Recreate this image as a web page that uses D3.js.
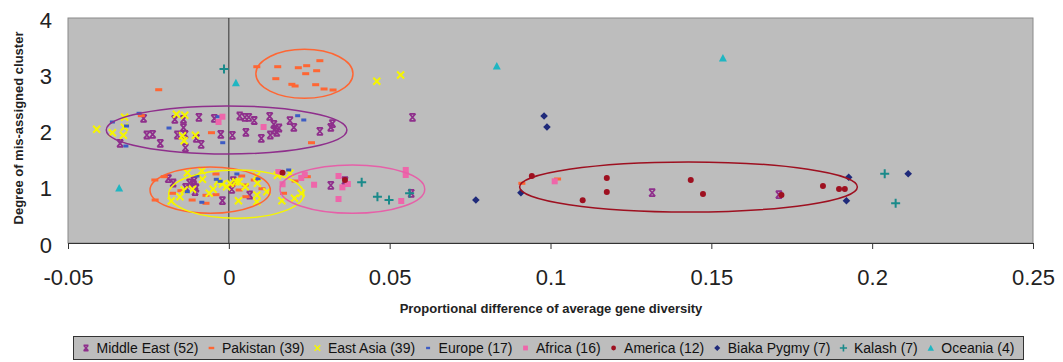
<!DOCTYPE html>
<html><head><meta charset="utf-8">
<script src="https://cdn.jsdelivr.net/npm/d3@7"></script>
<style>body{margin:0;background:#fff}svg{display:block;font-family:Arial,"Liberation Sans",sans-serif}</style>
</head><body><svg id="c" width="1063" height="362"></svg>
<script>
const xTicks = [-0.05, 0, 0.05, 0.1, 0.15, 0.2, 0.25];
const xTickLabels = ["-0.05", "0", "0.05", "0.1", "0.15", "0.2", "0.25"];
const yTicks = [0, 1, 2, 3, 4];
const xTitle = "Proportional difference of average gene diversity";
const yTitle = "Degree of mis-assigned cluster";
const seriesNames = ["Middle East (52)", "Pakistan (39)", "East Asia (39)", "Europe (17)", "Africa (16)", "America (12)", "Biaka Pygmy (7)", "Kalash (7)", "Oceania (4)"];

const middleEast = [[-0.0265,2.217],[-0.0168,2.199],[-0.0141,2.199],[-0.0093,2.235],[-0.0045,2.217],[0.0034,2.258],[0.0050,2.235],[0.0062,2.235],[0.0127,2.252],[0.0190,2.174],[0.0140,2.110],[0.0202,2.057],[0.0322,2.121],[0.0317,2.057],[0.0283,1.986],[0.0141,2.009],[0.0149,1.968],[0.0129,1.920],[0.0101,1.861],[0.0053,1.968],[0.0011,1.915],[-0.0025,1.932],[-0.0086,1.755],[-0.0101,1.861],[-0.0135,1.694],[-0.0136,1.932],[-0.0160,1.920],[-0.0141,2.050],[-0.0213,1.772],[-0.0237,1.932],[-0.0255,1.920],[-0.0338,1.772],[0.0571,2.235],[-0.0188,1.143],[-0.0108,1.108],[-0.0110,1.044],[-0.0134,0.990],[-0.0105,0.912],[-0.0020,0.752],[0.0014,1.108],[0.0009,0.955],[0.0065,0.853],[0.0317,1.026],[0.0361,1.108],[0.0567,0.884],[0.1316,0.894],[0.1710,0.859],[-0.0122,1.067],[-0.0102,0.978],[0.0156,2.044],[0.0079,2.178],[-0.0173,1.067]];
const pakistan = [[0.0087,3.134],[0.0152,3.134],[0.0216,3.116],[0.0242,3.152],[0.0283,3.241],[0.0273,3.063],[0.0239,3.010],[0.0146,2.921],[0.0196,2.821],[0.0206,2.791],[0.0270,2.814],[0.0296,2.738],[0.0324,2.720],[-0.0218,2.725],[-0.0272,2.263],[-0.0054,1.961],[0.0257,1.783],[-0.0230,1.120],[-0.0201,1.179],[-0.0175,0.884],[-0.0229,0.764],[-0.0149,0.930],[-0.0040,1.227],[-0.0040,0.859],[-0.0071,0.848],[-0.0071,0.706],[0.0040,1.191],[0.0079,1.120],[0.0032,0.942],[0.0051,1.031],[0.0103,0.965],[0.0053,0.823],[0.0170,0.884],[0.0206,1.102],[0.0244,1.179],[0.0911,1.061],[0.1022,1.138],[0.0010,1.031],[-0.0114,0.764]];
const eastAsia = [[-0.0324,2.235],[-0.0325,2.057],[-0.0362,1.961],[-0.0328,1.915],[-0.0163,2.288],[-0.0137,2.270],[-0.0144,1.908],[-0.0139,1.819],[-0.0104,1.915],[-0.0411,2.021],[0.0460,2.875],[0.0534,2.987],[-0.0129,1.250],[-0.0084,1.285],[-0.0082,1.132],[-0.0113,0.955],[-0.0152,0.823],[-0.0179,0.747],[-0.0049,0.955],[-0.0061,0.884],[-0.0035,1.090],[-0.0020,1.049],[-0.0007,1.001],[0.0022,1.090],[0.0032,1.090],[0.0051,1.001],[0.0089,1.061],[0.0086,1.191],[0.0118,0.912],[0.0087,0.853],[0.0087,0.734],[0.0030,0.752],[0.0151,1.204],[0.0190,1.239],[0.0165,0.752],[0.0204,0.795],[0.0225,0.884],[0.0004,1.058],[-0.0139,0.942]];
const europe = [[-0.0362,2.151],[-0.0279,2.306],[-0.0318,2.080],[-0.0186,2.044],[-0.0320,1.724],[-0.0033,2.245],[-0.0019,1.783],[0.0214,2.263],[0.0233,2.187],[-0.0099,1.191],[-0.0129,0.912],[-0.0084,0.724],[-0.0039,1.132],[-0.0027,1.097],[0.0025,1.227],[0.0091,1.143],[0.0186,1.298]];
const africa = [[-0.0020,2.245],[-0.0032,2.151],[0.0108,2.062],[0.0154,1.262],[0.0167,1.044],[0.0236,1.218],[0.0265,1.036],[0.0341,1.191],[0.0370,1.049],[0.0353,0.990],[0.0341,0.782],[0.0550,1.298],[0.0550,1.209],[0.0536,0.747],[0.1013,1.097],[0.0225,1.156]];
const america = [[0.0167,1.250],[0.0361,1.120],[0.0942,1.191],[0.1175,1.156],[0.1175,0.907],[0.1100,0.759],[0.1436,1.120],[0.1474,0.871],[0.1718,0.853],[0.1847,1.013],[0.1897,0.960],[0.1915,0.960]];
const biaka = [[0.0980,2.258],[0.0989,2.062],[0.0768,0.764],[0.0908,0.894],[0.1927,1.168],[0.1920,0.752],[0.2112,1.232]];
const kalash = [[-0.0015,3.093],[0.0413,1.079],[0.0462,0.823],[0.0498,0.764],[0.0562,0.884],[0.2039,1.232],[0.2073,0.706]];
const oceania = [[0.0022,2.850],[0.0833,3.147],[0.1536,3.289],[-0.0341,0.978]];

// ellipses: [cx, cy, rx, ry] in data units
const ellipseMiddleEast = [-0.0007, 2.01, 0.0374, 0.427];
const ellipsePakistanTop = [0.0235, 3.008, 0.0151, 0.436];
const ellipsePakistanLow = [-0.0058, 0.94, 0.0187, 0.41];
const ellipseEastAsia = [0.0023, 0.87, 0.021, 0.43];
const ellipseAfrica = [0.0384, 0.957, 0.0225, 0.43];
const ellipseAmerica = [0.1429, 0.996, 0.0525, 0.445];

const svg = d3.select("#c");
const L = 68, R = 1033, T = 18, B = 243;
const x = d3.scaleLinear().domain([-0.05, 0.25]).range([L, R]);
const y = d3.scaleLinear().domain([0, 4]).range([B, T]);

svg.append("rect").attr("x", L).attr("y", T).attr("width", R - L).attr("height", B - T)
  .attr("fill", "#bdbdbd").attr("stroke", "#8a8a8a").attr("stroke-width", 1);

// x axis
const xAxis = svg.append("g").attr("transform", `translate(0,${B})`)
  .call(d3.axisBottom(x).tickValues(xTicks).tickSize(6).tickPadding(20).tickFormat((d, i) => xTickLabels[i]));
xAxis.select(".domain").attr("stroke", "#333");
xAxis.selectAll(".tick line").attr("stroke", "#333");
xAxis.selectAll("text").attr("font-size", 22).attr("fill", "#222").attr("font-family", "Arial, 'Liberation Sans', sans-serif");

// y axis line at x=0 with labels at left
svg.append("line").attr("x1", x(0)).attr("x2", x(0)).attr("y1", T).attr("y2", B).attr("stroke", "#333");
svg.append("g").selectAll("text").data(yTicks).join("text")
  .attr("x", 52).attr("y", d => y(d) + 2).attr("dy", "0.35em").attr("text-anchor", "end")
  .attr("font-size", 22).attr("fill", "#222").text(d => d);

// titles
svg.append("text").attr("x", 551).attr("y", 313).attr("text-anchor", "middle")
  .attr("font-size", 13).attr("font-weight", "bold").attr("fill", "#222").text(xTitle);
svg.append("text").attr("transform", "translate(23,128) rotate(-90)").attr("text-anchor", "middle")
  .attr("font-size", 13).attr("font-weight", "bold").attr("fill", "#222").text(yTitle);

// marker drawers
const markers = [
  {draw: (g) => g.append("path").attr("d", "M-3,-3.5H3M-3,3.5H3M-3,-3.5L3,3.5M3,-3.5L-3,3.5").attr("stroke", "#8f2f8c").attr("stroke-width", 1.8).attr("fill", "none")},
  {draw: (g) => g.append("rect").attr("x", -3.5).attr("y", -1.5).attr("width", 7).attr("height", 3).attr("fill", "#ff6633")},
  {draw: (g) => g.append("path").attr("d", "M-3.5,-3.5L3.5,3.5M3.5,-3.5L-3.5,3.5").attr("stroke", "#f5f500").attr("stroke-width", 2).attr("fill", "none")},
  {draw: (g) => g.append("rect").attr("x", -2.5).attr("y", -1.5).attr("width", 5).attr("height", 3).attr("fill", "#3d5cc4")},
  {draw: (g) => g.append("rect").attr("x", -3).attr("y", -3).attr("width", 6).attr("height", 6).attr("fill", "#ee66aa")},
  {draw: (g) => g.append("circle").attr("r", 3).attr("fill", "#9e1020")},
  {draw: (g) => g.append("path").attr("d", "M0,-3.8L3.8,0L0,3.8L-3.8,0Z").attr("fill", "#1f2a7a")},
  {draw: (g) => g.append("path").attr("d", "M-4.5,0H4.5M0,-4.5V4.5").attr("stroke", "#1a8a8a").attr("stroke-width", 2).attr("fill", "none")},
  {draw: (g) => g.append("path").attr("d", "M0,-4L4,3.5H-4Z").attr("fill", "#1fb6c2")}
];
const seriesData = [middleEast, pakistan, eastAsia, europe, africa, america, biaka, kalash, oceania];

const pts = svg.append("g");
seriesData.forEach((data, i) => {
  pts.append("g").selectAll("g").data(data).join("g")
    .attr("transform", d => `translate(${x(d[0])},${y(d[1])})`)
    .each(function() { markers[i].draw(d3.select(this)); });
});

// ellipses
const ells = [[ellipseMiddleEast, "#8f2f8c"], [ellipsePakistanTop, "#ff6633"], [ellipsePakistanLow, "#ff6633"], [ellipseEastAsia, "#f5f500"], [ellipseAfrica, "#e660a8"], [ellipseAmerica, "#9e1020"]];
svg.append("g").selectAll("ellipse").data(ells).join("ellipse")
  .attr("cx", d => x(d[0][0])).attr("cy", d => y(d[0][1]))
  .attr("rx", d => x(d[0][0] + d[0][2]) - x(d[0][0]))
  .attr("ry", d => y(d[0][1] - d[0][3]) - y(d[0][1]))
  .attr("fill", "none").attr("stroke", d => d[1]).attr("stroke-width", 1.5);

// legend
const lg = svg.append("g");
lg.append("rect").attr("x", 73.5).attr("y", 336.5).attr("width", 950).attr("height", 23)
  .attr("fill", "#bdbdbd").attr("stroke", "#333").attr("stroke-width", 1);
let cx = 86;
seriesNames.forEach((name, i) => {
  const g = lg.append("g").attr("transform", `translate(${cx},348)`);
  markers[i].draw(g.append("g").attr("transform", "scale(0.8)"));
  const t = lg.append("text").attr("x", cx + 10.5).attr("y", 353).attr("font-size", 14).attr("fill", "#111").text(name);
  const w = t.node().getComputedTextLength();
  cx = cx + 10.5 + w + 13;
});
</script></body></html>
